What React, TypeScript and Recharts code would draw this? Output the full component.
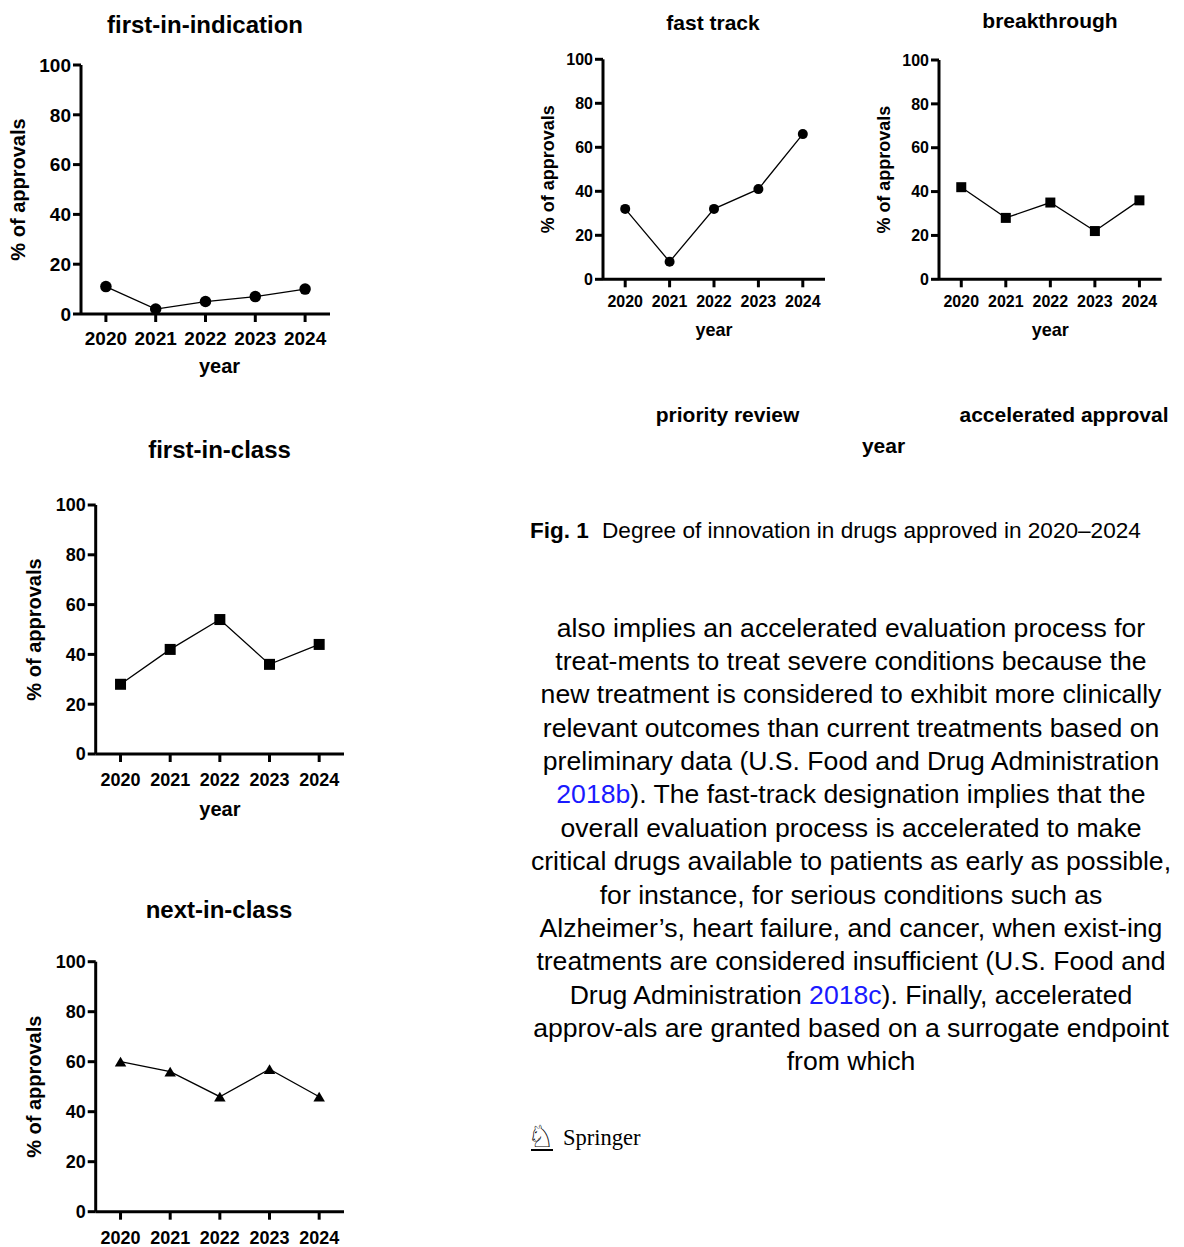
import React from 'react';
import { LineChart, Line, XAxis, YAxis } from 'recharts';

// values (% of approvals per year)
const years = [2020, 2021, 2022, 2023, 2024];
const firstInIndication = [11, 2, 5, 7, 10];
const fastTrack = [32, 8, 32, 41, 66];
const breakthrough = [42, 28, 35, 22, 36];
const firstInClass = [28, 42, 54, 36, 44];
const nextInClass = [60, 56, 46, 57, 46];
const percentTicks = [0, 20, 40, 60, 80, 100];

const paragraphLines: { text: string; link?: string; after?: string }[] = [
  { text: 'also implies an accelerated evaluation process for' },
  { text: 'treat-ments to treat severe conditions because the' },
  { text: 'new treatment is considered to exhibit more clinically' },
  { text: 'relevant outcomes than current treatments based on' },
  { text: 'preliminary data (U.S. Food and Drug Administration' },
  { text: '', link: '2018b', after: '). The fast-track designation implies that the' },
  { text: 'overall evaluation process is accelerated to make' },
  { text: 'critical drugs available to patients as early as possible,' },
  { text: 'for instance, for serious conditions such as' },
  { text: 'Alzheimer\u2019s, heart failure, and cancer, when exist-ing' },
  { text: 'treatments are considered insufficient (U.S. Food and' },
  { text: 'Drug Administration ', link: '2018c', after: '). Finally, accelerated' },
  { text: 'approv-als are granted based on a surrogate endpoint' },
  { text: 'from which' },
];

const FONT = '"Liberation Sans", Arial, Helvetica, sans-serif';
const LINK = '#1a1aff';

type Marker = 'circle' | 'square' | 'triangle';

const makeDot = (kind: Marker, size: number) => (props: any) => {
  const { cx, cy, index } = props;
  if (cx == null || cy == null) return <g key={index} />;
  const s = size / 2;
  if (kind === 'circle') return <circle key={index} cx={cx} cy={cy} r={s} fill="#000" />;
  if (kind === 'square')
    return <rect key={index} x={cx - s} y={cy - s} width={size} height={size} fill="#000" />;
  const h = size * 0.42;
  return (
    <polygon key={index} points={`${cx},${cy - h} ${cx + s},${cy + h} ${cx - s},${cy + h}`} fill="#000" />
  );
};

type PanelProps = {
  values: number[];
  marker: Marker;
  markerSize: number;
  left: number;
  top: number;
  x0: number;
  y0: number;
  x1: number;
  y1: number;
  tickFont: number;
  labelFont: number;
  tickTop: number;
  yearBaseline?: number;
  yearDx?: number;
  yLabelX: number;
};

const Panel = (p: PanelProps) => {
  const data = years.map((year, i) => ({ year, value: p.values[i] }));
  const yw = p.x0 - p.left;
  const mt = p.y0 - p.top;
  const xh = 30;
  const width = yw + (p.x1 - p.x0) + 12;
  const height = mt + (p.y1 - p.y0) + xh + 50;
  const tickStyle = { fill: '#000', fontSize: p.tickFont, fontWeight: 700, fontFamily: FONT };
  const labelStyle = { fill: '#000', fontSize: p.labelFont, fontWeight: 700, fontFamily: FONT, textAnchor: 'middle' as const };

  return (
    <div style={{ position: 'absolute', left: p.left, top: p.top }}>
      <LineChart width={width} height={height} data={data} margin={{ top: mt, right: 12, bottom: 50, left: 0 }}>
        <XAxis
          dataKey="year"
          type="number"
          domain={[2019.5, 2024.5]}
          ticks={years}
          interval={0}
          height={xh}
          tickSize={8}
          tickMargin={p.tickTop - 8}
          tick={tickStyle}
          axisLine={{ stroke: '#000', strokeWidth: 3 }}
          tickLine={{ stroke: '#000', strokeWidth: 3 }}
          label={
            p.yearBaseline
              ? {
                  value: 'year',
                  position: 'bottom',
                  offset: p.yearBaseline - p.y1 - xh - 0.71 * p.labelFont,
                  dx: p.yearDx ?? 0,
                  style: labelStyle,
                }
              : undefined
          }
        />
        <YAxis
          type="number"
          domain={[0, 100]}
          ticks={percentTicks}
          interval={0}
          width={yw}
          tickSize={8}
          tickMargin={2}
          tick={tickStyle}
          axisLine={{ stroke: '#000', strokeWidth: 3 }}
          tickLine={{ stroke: '#000', strokeWidth: 3 }}
          label={{
            value: '% of approvals',
            angle: -90,
            position: 'insideLeft',
            offset: p.yLabelX - p.left,
            style: labelStyle,
          }}
        />
        <Line
          type="linear"
          dataKey="value"
          stroke="#000"
          strokeWidth={1.3}
          dot={makeDot(p.marker, p.markerSize)}
          activeDot={false}
          isAnimationActive={false}
        />
      </LineChart>
    </div>
  );
};

const PageText = () => (
  <svg width={1184} height={1247} style={{ position: 'absolute', left: 0, top: 0 }} fontFamily={FONT}>
    <g fontWeight={700} fill="#000" textAnchor="middle">
      <text x={205} y={32.5} fontSize={24}>first-in-indication</text>
      <text x={219.5} y={458} fontSize={24}>first-in-class</text>
      <text x={219} y={918} fontSize={24}>next-in-class</text>
      <text x={713} y={30} fontSize={21}>fast track</text>
      <text x={1050} y={27.5} fontSize={21}>breakthrough</text>
      <text x={727.5} y={422} fontSize={21}>priority review</text>
      <text x={1064} y={422} fontSize={21}>accelerated approval</text>
      <text x={883.5} y={453} fontSize={21}>year</text>
    </g>
    <text x={530} y={538} fontSize={22.5} fontWeight={700}>Fig. 1</text>
    <text x={602} y={538} fontSize={22.6}>Degree of innovation in drugs approved in 2020–2024</text>
    <g fontSize={26.6} textAnchor="middle" fill="#000">
      {paragraphLines.map((l, i) => (
        <text key={i} x={851} y={636.7 + i * 33.35}>
          {l.text}
          {l.link && <tspan fill={LINK}>{l.link}</tspan>}
          {l.after}
        </text>
      ))}
    </g>
    <text x={527} y={1147} fontSize={31} fontFamily='"DejaVu Sans", sans-serif'>♘</text>
    <rect x={531} y={1149} width={22} height={2} fill="#000" />
    <text x={563} y={1145} fontSize={22.5} fontFamily='"Liberation Serif", "DejaVu Serif", serif'>Springer</text>
  </svg>
);

export default function App() {
  return (
    <div style={{ position: 'absolute', left: 0, top: 0, width: 1184, height: 1247, overflow: 'hidden', background: '#fff' }}>
      <PageText />
      <Panel values={firstInIndication} marker="circle" markerSize={11.5} left={0} top={50}
        x0={81} y0={65} x1={330} y1={314} tickFont={19} labelFont={20} tickTop={18} yearBaseline={373} yearDx={14} yLabelX={18} />
      <Panel values={fastTrack} marker="circle" markerSize={10} left={530} top={45}
        x0={603} y0={59.3} x1={825} y1={279.3} tickFont={16} labelFont={18} tickTop={16} yearBaseline={336} yLabelX={548} />
      <Panel values={breakthrough} marker="square" markerSize={10} left={860} top={45}
        x0={939} y0={60} x1={1161.7} y1={279.3} tickFont={16} labelFont={18} tickTop={16} yearBaseline={336} yLabelX={884} />
      <Panel values={firstInClass} marker="square" markerSize={11} left={0} top={490}
        x0={95.7} y0={505} x1={344} y1={754} tickFont={18} labelFont={20} tickTop={19.5} yearBaseline={816} yLabelX={34} />
      <Panel values={nextInClass} marker="triangle" markerSize={11.5} left={0} top={945}
        x0={95.7} y0={961.7} x1={344} y1={1211.7} tickFont={18} labelFont={20} tickTop={20} yLabelX={34} />
    </div>
  );
}
